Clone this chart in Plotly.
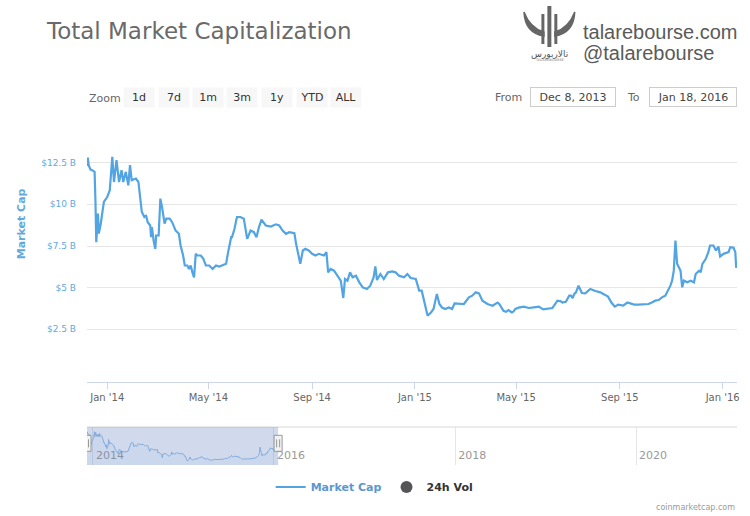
import pandas as pd
import plotly.graph_objects as go

# ---------------- data ----------------
start_date = "2013-12-08"
end_date = "2016-01-18"
# days since Dec 8, 2013
days = [0, 1, 2, 4, 6, 9, 10, 11, 13, 14, 16, 20, 24, 27, 30, 32, 35, 38, 41, 43,
        46, 49, 51, 53, 58, 61, 63, 65, 68, 70, 72, 75, 76, 77, 79, 81, 82, 85, 87, 89,
        92, 94, 98, 101, 105, 109, 111, 114, 116, 119, 121, 123, 125, 127, 129, 131, 135, 138, 141, 145,
        149, 153, 157, 161, 165, 167, 169, 171, 172, 175, 177, 178, 182, 186, 190, 194, 198, 201, 204, 207,
        212, 218, 224, 228, 232, 236, 240, 246, 248, 251, 253, 256, 259, 263, 267, 271, 275, 281, 284, 286,
        289, 293, 297, 301, 304, 306, 309, 312, 315, 319, 323, 327, 332, 336, 340, 342, 344, 348, 352, 357,
        362, 366, 370, 376, 380, 384, 390, 394, 397, 400, 404, 408, 411, 415, 418, 421, 425, 429, 433, 436,
        441, 447, 453, 457, 461, 465, 469, 475, 481, 487, 489, 492, 494, 497, 500, 504, 506, 508, 512, 518,
        524, 530, 536, 541, 546, 552, 554, 556, 558, 562, 564, 568, 570, 572, 574, 576, 578, 580, 583, 587,
        591, 597, 603, 609, 614, 618, 622, 626, 630, 636, 641, 645, 649, 654, 660, 666, 670, 674, 678, 682,
        686, 689, 692, 694, 696, 698, 700, 702, 704, 706, 708, 712, 716, 720, 722, 726, 728, 730, 734, 737,
        739, 743, 746, 749, 751, 755, 761, 763, 767, 769, 770, 771]
# total market capitalization, billions of USD
market_cap_b = [12.3, 12.8, 12.35, 12.1, 12.05, 11.95, 10.24, 7.73, 9.45, 8.25, 8.73, 10.14, 10.44, 10.84, 12.85, 11.34, 12.65, 11.34, 12.05, 11.34,
                11.95, 11.14, 12.35, 11.45, 11.55, 11.34, 10.44, 9.54, 9.24, 9.34, 8.93, 8.73, 8.03, 8.63, 7.83, 7.33, 8.13, 8.13, 10.34, 9.84,
                8.84, 9.14, 9.14, 8.93, 8.43, 8.23, 7.53, 6.93, 6.33, 6.33, 6.12, 6.33, 5.92, 5.62, 7.03, 6.93, 6.93, 6.73, 6.33, 6.33,
                6.12, 6.33, 6.27, 6.33, 6.43, 7.03, 7.63, 8.03, 8.03, 8.53, 9.04, 9.24, 9.24, 9.14, 7.93, 8.43, 8.33, 8.03, 8.63, 9.08,
                8.73, 8.67, 8.80, 8.73, 8.43, 8.23, 8.33, 8.27, 7.63, 6.93, 6.43, 7.23, 7.33, 7.23, 7.03, 6.93, 7.03, 6.93, 7.13, 5.92,
                6.12, 6.02, 5.72, 5.42, 4.38, 5.52, 5.42, 5.92, 5.62, 5.72, 5.32, 5.02, 4.92, 5.12, 5.62, 6.27, 5.46, 5.82, 5.52, 5.92,
                5.98, 5.92, 5.72, 5.62, 5.82, 5.58, 5.52, 4.82, 4.82, 4.11, 3.31, 3.51, 3.72, 4.62, 4.02, 3.81, 3.72, 3.81, 3.72, 4.05,
                4.02, 4.02, 4.42, 4.52, 4.72, 4.66, 4.22, 4.02, 3.92, 4.11, 4.02, 3.72, 3.61, 3.55, 3.65, 3.51, 3.57, 3.72, 3.80, 3.86,
                3.78, 3.82, 3.86, 3.70, 3.72, 3.78, 3.92, 4.11, 4.22, 4.18, 4.11, 4.15, 4.32, 4.52, 4.52, 4.38, 4.62, 4.72, 5.12, 4.68,
                4.66, 4.92, 4.80, 4.72, 4.58, 4.46, 4.11, 3.86, 3.98, 3.92, 4.11, 4.05, 3.98, 3.98, 3.98, 4.02, 4.11, 4.22, 4.26, 4.42,
                4.52, 4.82, 5.12, 5.42, 6.02, 7.83, 6.43, 6.22, 6.02, 5.02, 5.42, 5.32, 5.42, 5.32, 5.82, 6.02, 5.92, 6.43, 6.73, 7.13,
                7.53, 7.53, 7.23, 7.47, 6.87, 7.03, 7.13, 7.43, 7.39, 7.13, 6.2, 6.4]
y_tick_values = [2.5, 5, 7.5, 10, 12.5, 15]
y_tick_labels = ["$2.5 B", "$5 B", "$7.5 B", "$10 B", "$12.5 B", ""]
zoom_buttons = ["1d", "7d", "1m", "3m", "1y", "YTD", "ALL"]
from_label, to_label = "Dec 8, 2013", "Jan 18, 2016"
navigator_end = "2021-02-11"

dates = pd.Timestamp(start_date) + pd.to_timedelta(days, unit="D")

# ---------------- layout helpers ----------------
W_FIG, H_FIG = 750, 516
L, R = 87, 10
T, B = 121, 51
PW = W_FIG - L - R
PH = H_FIG - T - B
BOTTOM = H_FIG - B


def px(x):
    return (x - L) / PW


def py(y):
    return (BOTTOM - y) / PH


FONT = "DejaVu Sans"
BLUE = "#52a4e2"
LABEL_BLUE = "#62a8de"

fig = go.Figure()
fig.add_trace(go.Scatter(
    x=dates, y=market_cap_b, mode="lines", name="<span style='color:#5b97d3'>Market Cap</span>",
    line=dict(color=BLUE, width=2.2), xaxis="x", yaxis="y", hoverinfo="x+y"))
fig.add_trace(go.Scatter(
    x=[None], y=[None], mode="markers", name="<span style='color:#333333'>24h Vol</span>",
    marker=dict(color="#555558", size=12), xaxis="x", yaxis="y"))
# navigator series
fig.add_trace(go.Scatter(
    x=dates, y=market_cap_b, mode="lines", showlegend=False,
    line=dict(color="#8fbde6", width=1), fill="tozeroy", fillcolor="rgba(124,181,236,0.06)",
    xaxis="x2", yaxis="y2", hoverinfo="skip"))

main_bottom = py(382)
nav_top = py(427)

fig.update_layout(
    width=W_FIG, height=H_FIG,
    margin=dict(l=L, r=R, t=T, b=B),
    paper_bgcolor="white", plot_bgcolor="white",
    font=dict(family=FONT, color="#333"),
    title=dict(text="Total Market Capitalization", xref="container", yref="container",
               x=47 / W_FIG, y=1 - 31 / H_FIG, xanchor="left", yanchor="middle",
               font=dict(family=FONT, size=23, color="#6a6a6a")),
    xaxis=dict(domain=[0, 1], range=[start_date, end_date], type="date",
               showgrid=False, zeroline=False, showline=True, linecolor="#ccd6eb", linewidth=1,
               ticks="outside", ticklen=6, tickcolor="#ccd6eb", tick0="2014-01-01", dtick="M4",
               tickformat="%b '%y", tickfont=dict(size=10, color="#666"), anchor="y"),
    yaxis=dict(domain=[main_bottom, 1], range=[-0.66, 15], tickvals=y_tick_values, ticktext=y_tick_labels,
               showgrid=True, gridcolor="#e6e6e6", gridwidth=1, zeroline=False, showline=False,
               tickfont=dict(size=9, color=LABEL_BLUE), ticklabelstandoff=10, anchor="x"),
    xaxis2=dict(domain=[0, 1], range=[start_date, navigator_end], type="date", anchor="y2",
                showgrid=True, gridcolor="#e6e6e6", zeroline=False, showline=False,
                tick0="2014-01-01", dtick="M24", tickformat="%Y", ticks="",
                ticklabelposition="inside", ticklabelshift=17, ticklabelstandoff=1,
                tickfont=dict(size=11, color="#999")),
    yaxis2=dict(domain=[0, nav_top], range=[2.0, 14.4], anchor="x2", visible=False, fixedrange=True),
    legend=dict(orientation="h", x=px(376), y=py(487), xanchor="center", yanchor="middle",
                font=dict(family=FONT, size=11, weight="bold"), itemwidth=30, bgcolor="rgba(0,0,0,0)"),
    showlegend=True,
)

shapes = []
annotations = []


def note(text, x, y, **kw):
    d = dict(text=text, xref="paper", yref="paper", x=px(x), y=py(y), showarrow=False,
             xanchor="center", yanchor="middle")
    d.update(kw)
    annotations.append(d)


# navigator outline & mask
shapes.append(dict(type="line", xref="paper", yref="paper", x0=0, x1=1, y0=nav_top, y1=nav_top,
                   line=dict(color="#d8d8d8", width=1)))
shapes.append(dict(type="rect", xref="x2", yref="y2 domain", x0=start_date, x1=end_date, y0=0, y1=1,
                   fillcolor="rgba(102,133,194,0.3)", line=dict(width=0), layer="above"))
for edge in (start_date, end_date):
    shapes.append(dict(type="rect", xref="x2", yref="y2 domain", xsizemode="pixel", ysizemode="pixel",
                       xanchor=edge, yanchor=0.57, x0=-4, x1=4, y0=-8, y1=8,
                       fillcolor="#f2f2f2", line=dict(color="#999", width=1), layer="above"))
    for off in (-1.5, 1.5):
        shapes.append(dict(type="line", xref="x2", yref="y2 domain", xsizemode="pixel", ysizemode="pixel",
                           xanchor=edge, yanchor=0.57, x0=off, x1=off, y0=-4, y1=4,
                           line=dict(color="#999", width=1), layer="above"))

# range selector look-alike
note("Zoom", 105, 98, font=dict(size=11, color="#666"))
btn_centers = [139.5, 174, 208.5, 243, 278, 313, 347]
for label, cx in zip(zoom_buttons, btn_centers):
    note(label, cx, 97.5, width=30, height=19, bgcolor="#f7f7f7", borderpad=0,
         font=dict(size=11, color="#333"))
note("From", 510, 97.5, font=dict(size=11, color="#666"))
note(from_label, 575, 97, width=84, height=18, bgcolor="white", bordercolor="#cccccc",
     borderwidth=1, borderpad=0, font=dict(size=11, color="#444"))
note("To", 636.5, 97.5, font=dict(size=11, color="#666"))
note(to_label, 696, 97, width=86, height=18, bgcolor="white", bordercolor="#cccccc",
     borderwidth=1, borderpad=0, font=dict(size=11, color="#444"))

# y axis title
note("Market Cap", 21, 224, textangle=-90, font=dict(size=11, color=LABEL_BLUE, weight="bold"))

# watermark / logo text
note("talarebourse.com", 583, 32, xanchor="left",
     font=dict(family="Liberation Sans", size=20, color="#5a5a5a"))
note("@talarebourse", 583, 53, xanchor="left",
     font=dict(family="Liberation Sans", size=20, color="#5a5a5a"))
note("تالاربورس", 552, 53.5, font=dict(family="DejaVu Sans", size=9, color="#555"))
note("TALAREBOURSE", 552, 60, font=dict(family="DejaVu Sans", size=3.5, color="#777"))
note("coinmarketcap.com", 740, 507, xanchor="right", font=dict(size=8, color="#999"))


def ppath(points_cmd):
    out = []
    for tok in points_cmd:
        if isinstance(tok, str):
            out.append(tok)
        else:
            out.append(f"{px(tok[0]):.5f},{py(tok[1]):.5f}")
    return " ".join(out)


logo_gray = "#666666"
# horns
shapes.append(dict(type="path", xref="paper", yref="paper",
                   path=ppath(["M", (526, 12), "Q", (527, 33), (546, 36), "L", (546, 32), "Q", (532, 28), (526, 12), "Z"]),
                   fillcolor=logo_gray, line=dict(color=logo_gray, width=1.5)))
shapes.append(dict(type="path", xref="paper", yref="paper",
                   path=ppath(["M", (577, 12), "Q", (576, 33), (557, 36), "L", (557, 32), "Q", (571, 28), (577, 12), "Z"]),
                   fillcolor=logo_gray, line=dict(color=logo_gray, width=1.5)))
# vertical bars
for x0, x1, y0, y1 in [(543.5, 546.5, 14, 44), (549.5, 553.5, 6, 47), (556.5, 559.5, 14, 44)]:
    shapes.append(dict(type="rect", xref="paper", yref="paper", x0=px(x0), x1=px(x1), y0=py(y1), y1=py(y0),
                       fillcolor=logo_gray, line=dict(width=0)))

fig.update_layout(shapes=shapes, annotations=annotations)
fig.write_html("out.html")
